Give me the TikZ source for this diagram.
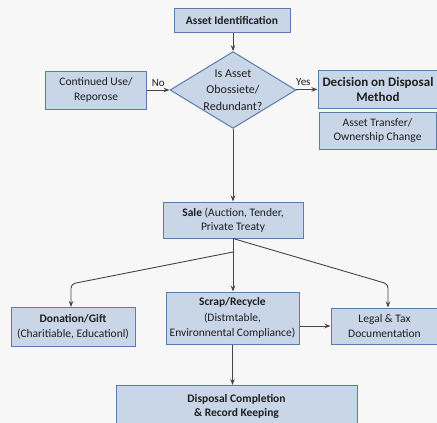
\documentclass[tikz,border=0pt]{standalone}
\usepackage{fontspec}
\setmainfont{Carlito}
\usetikzlibrary{arrows.meta,shapes.geometric}
\definecolor{boxfill}{HTML}{C9D6E8}
\definecolor{boxline}{HTML}{5B7BAB}
\definecolor{linegray}{HTML}{454545}
\definecolor{txtgray}{HTML}{1E1E1E}
\tikzset{
	stepbox/.style={draw=boxline, fill=boxfill, line width=1pt, align=center, inner sep=2pt,
		text=txtgray, font=\fontsize{11.5}{14.5}\selectfont},
	arr/.style={draw=linegray, line width=0.9pt, -{Stealth[length=6pt,width=4.5pt]}},
	lbl/.style={text=txtgray, font=\fontsize{11}{13}\selectfont}
}

\begin{document}
\begin{tikzpicture}[x=1pt, y=-1pt]
			%%%%% START %%%%%
			
			\fill[white!97!black] (0, 0) rectangle (437, 423);
			\useasboundingbox (0, 0) rectangle (437, 423);
			\clip (0, 0) rectangle (437, 423);
			
			\node[stepbox, minimum width=116, minimum height=24, font=\fontsize{11.5}{14.5}\selectfont\bfseries] (ident) at (232, 20) {Asset Identification};
			\node[stepbox, diamond, aspect=1.64, inner sep=0pt, minimum width=124, minimum height=76, font=\fontsize{12}{16.5}\selectfont] (decide) at (233, 90) {Is Asset\\Obossiete/\\Redundant?};
			\node[stepbox, minimum width=101, minimum height=38] (reuse) at (96, 90) {Continued Use/\\Reporose};
			\node[stepbox, minimum width=120, minimum height=38, font=\fontsize{13}{15}\selectfont\bfseries] (method) at (378, 89) {Decision on Disposal\\Method};
			\node[stepbox, minimum width=117, minimum height=37] (transfer) at (377.5, 130.5) {Asset Transfer/\\Ownership Change};
			
			\node[stepbox, minimum width=140, minimum height=36] (sale) at (233, 220) {\textbf{Sale} (Auction, Tender,\\Private Treaty};
			
			\node[stepbox, minimum width=124, minimum height=39] (donate) at (73, 327) {\textbf{Donation/Gift}\\(Charitiable, Educationl)};
			\node[stepbox, minimum width=133, minimum height=52, font=\fontsize{11.5}{15.5}\selectfont] (scrap) at (232.5, 318) {\textbf{Scrap/Recycle}\\(Distmtable,\\Environnental Compliance)};
			\node[stepbox, minimum width=107, minimum height=36] (legal) at (384.5, 326) {Legal \& Tax\\Documentation};
			\node[stepbox, minimum width=241, minimum height=42, font=\fontsize{11.5}{14.5}\selectfont\bfseries] (done) at (236.5, 406.5) {Disposal Completion\\\& Record Keeping};
			
			\coordinate (lsplit) at (233, 252);
			\coordinate (lbend) at (71, 284);
			\coordinate (rbend) at (388, 284);
			
			\draw[arr] (ident.south -| decide.north) -- (decide.north);
			\draw[arr] (reuse) -- node[lbl, above] {No} (decide);
			\draw[arr] (decide) -- node[lbl, above, pos=0.35] {Yes} (method);
			\draw[arr] (decide) -- (sale);
			
			\draw[arr] (sale.south) -- (sale.south |- scrap.north);
			\draw[arr, rounded corners=4pt] (lsplit) -- (lbend) -- (lbend |- donate.north);
			\draw[arr, rounded corners=4pt] (sale.south) -- (rbend) -- (rbend |- legal.north);
			\draw[arr] (scrap.east |- legal.west) -- (legal.west);
			\draw[arr] (scrap.south) -- (scrap.south |- done.north);
			
			%%%%% END %%%%%
\end{tikzpicture}
\end{document}
